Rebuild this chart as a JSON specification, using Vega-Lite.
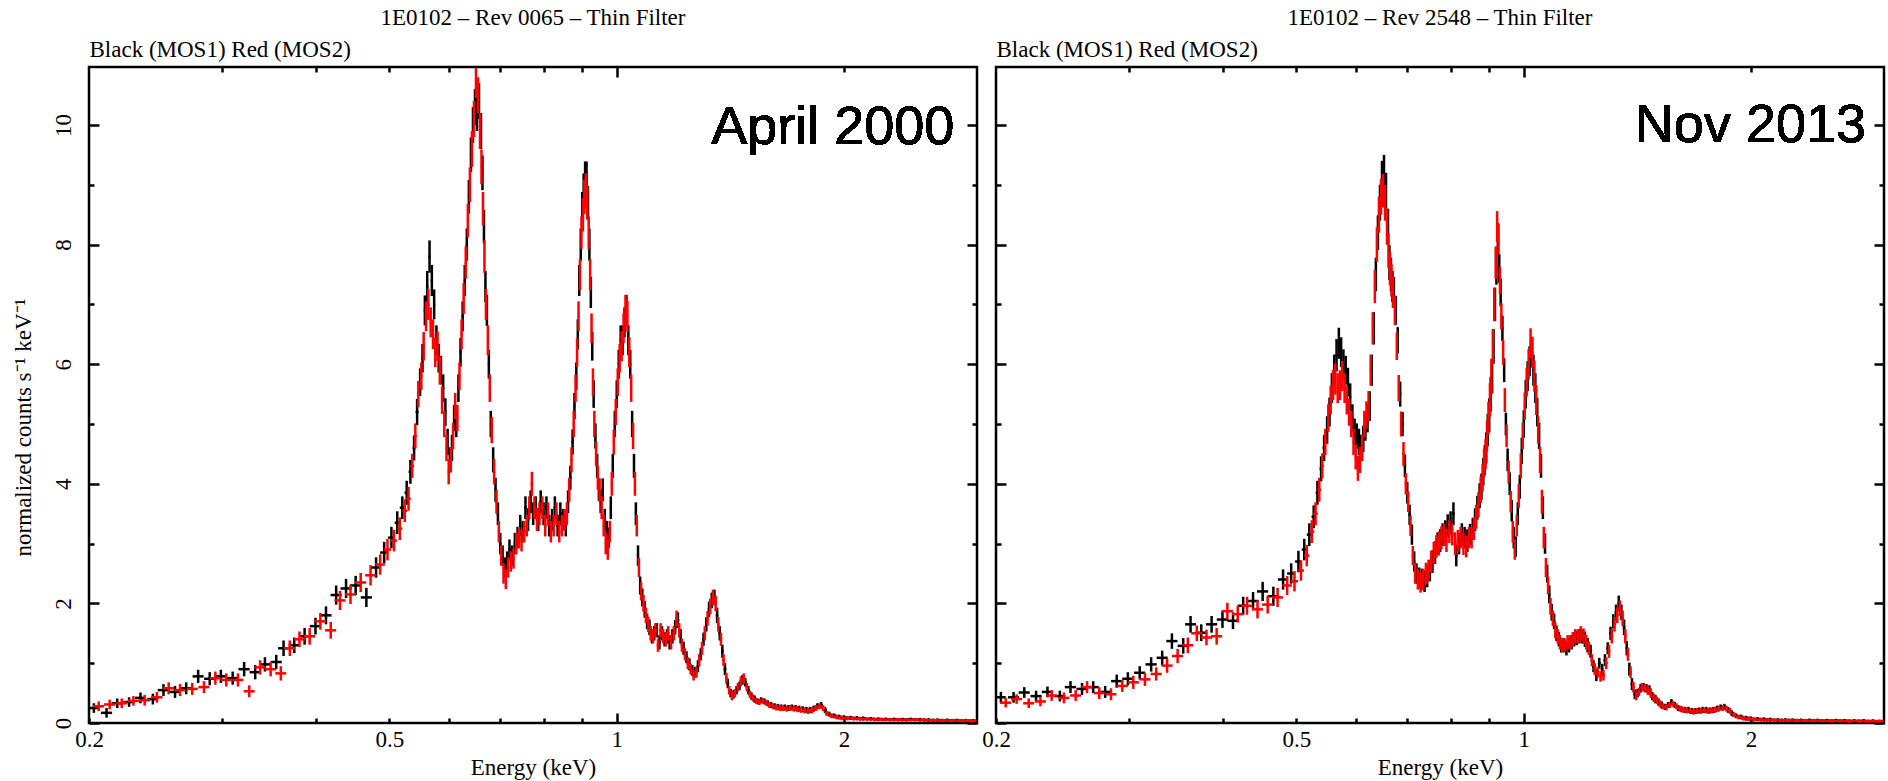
{
"$schema": "https://vega.github.io/schema/vega-lite/v6.json",
"background": "white",
"padding": {"left": 10, "top": 5, "right": 0, "bottom": 0},
"config": {
 "view": {"stroke": "black", "strokeWidth": 2.5},
 "concat": {"spacing": 0},
 "axis": {"domain": false, "grid": false, "tickColor": "black", "tickWidth": 2.5, "labelFont": "Liberation Serif", "labelFontSize": 23, "labelColor": "black", "labelOverlap": false, "labelFlush": false, "titleFont": "Liberation Serif", "titleFontSize": 23, "titleFontWeight": "normal", "titleColor": "black"},
 "title": {"font": "Liberation Serif", "fontSize": 23, "fontWeight": "normal", "color": "black", "anchor": "middle", "frame": "group", "offset": 8}
},
"data": {"format": {"type": "csv", "parse": {"e": "number", "w": "number", "c": "number", "s": "number"}},
"values": "k,e,w,c,s\na,0.203,0.003,0.25,0.08\na,0.211,0.0036,0.17,0.08\na,0.218,0.0037,0.33,0.08\na,0.226,0.0038,0.35,0.08\na,0.234,0.004,0.42,0.09\na,0.243,0.0041,0.40,0.09\na,0.251,0.0043,0.55,0.1\na,0.260,0.0044,0.52,0.1\na,0.269,0.0046,0.58,0.1\na,0.279,0.0047,0.78,0.11\na,0.289,0.0049,0.74,0.11\na,0.299,0.0051,0.78,0.11\na,0.310,0.0053,0.75,0.11\na,0.321,0.0055,0.90,0.12\na,0.332,0.0056,0.85,0.12\na,0.342,0.0058,0.98,0.12\na,0.354,0.006,1.02,0.12\na,0.362,0.006,1.25,0.13\na,0.374,0.0064,1.30,0.13\na,0.386,0.0066,1.45,0.14\na,0.399,0.0068,1.62,0.14\na,0.412,0.007,1.80,0.15\na,0.425,0.0072,2.14,0.16\na,0.438,0.0074,2.25,0.16\na,0.451,0.0077,2.30,0.16\na,0.466,0.0079,2.10,0.16\na,0.480,0.0075,2.60,0.17\na,0.492,0.006,2.85,0.18\na,0.503,0.005,3.10,0.18\na,0.512,0.004,3.35,0.19\na,0.520,0.004,3.60,0.19\na,0.527,0.0035,3.85,0.2\na,0.533,0.003,4.20,0.2\na,0.539,0.0025,4.6,0.21\na,0.544,0.0025,5.2,0.22\na,0.549,0.0022,5.7,0.23\na,0.553,0.002,6.1,0.24\na,0.557,0.002,6.9,0.25\na,0.561,0.002,7.3,0.26\na,0.565,0.002,7.8,0.27\na,0.569,0.002,7.4,0.26\na,0.573,0.002,7.0,0.25\na,0.577,0.002,6.4,0.25\na,0.581,0.002,6.1,0.24\na,0.585,0.002,5.9,0.24\na,0.589,0.002,5.6,0.23\na,0.593,0.002,5.2,0.23\na,0.597,0.002,4.7,0.22\na,0.601,0.002,4.4,0.21\na,0.605,0.002,4.6,0.22\na,0.609,0.002,5.1,0.22\na,0.613,0.002,5.0,0.22\na,0.617,0.002,5.6,0.23\na,0.621,0.002,6.2,0.24\na,0.625,0.002,6.8,0.25\na,0.629,0.002,7.4,0.26\na,0.633,0.002,8.0,0.27\na,0.637,0.002,8.8,0.28\na,0.641,0.002,9.5,0.29\na,0.645,0.002,10.0,0.3\na,0.649,0.002,10.3,0.3\na,0.653,0.002,10.2,0.3\na,0.657,0.002,10.4,0.3\na,0.661,0.0018,9.9,0.3\na,0.664,0.0015,9.2,0.29\na,0.667,0.0015,8.3,0.28\na,0.670,0.0015,7.3,0.26\na,0.673,0.0018,6.9,0.26\na,0.677,0.002,6.0,0.24\na,0.681,0.002,5.0,0.22\na,0.686,0.0025,4.4,0.21\na,0.691,0.0025,3.9,0.2\na,0.696,0.0025,3.5,0.19\na,0.701,0.0025,3.0,0.18\na,0.706,0.0025,2.8,0.17\na,0.711,0.0025,2.6,0.17\na,0.716,0.0025,2.7,0.17\na,0.721,0.0025,2.9,0.17\na,0.727,0.003,2.8,0.17\na,0.733,0.003,3.0,0.18\na,0.739,0.003,3.1,0.18\na,0.745,0.003,3.3,0.18\na,0.751,0.003,3.2,0.18\na,0.757,0.003,3.6,0.19\na,0.763,0.003,3.4,0.19\na,0.769,0.003,3.7,0.19\na,0.775,0.003,3.5,0.19\na,0.781,0.003,3.6,0.19\na,0.787,0.003,3.4,0.19\na,0.793,0.003,3.7,0.19\na,0.800,0.0035,3.5,0.19\na,0.807,0.0035,3.6,0.19\na,0.814,0.0035,3.3,0.18\na,0.821,0.0035,3.4,0.18\na,0.828,0.0035,3.6,0.19\na,0.835,0.0035,3.3,0.18\na,0.842,0.0035,3.5,0.19\na,0.849,0.0035,3.4,0.18\na,0.856,0.0035,3.3,0.18\na,0.862,0.003,3.7,0.19\na,0.868,0.003,4.1,0.2\na,0.874,0.003,4.7,0.21\na,0.879,0.0025,5.3,0.22\na,0.884,0.0022,5.8,0.23\na,0.888,0.002,6.5,0.25\na,0.892,0.002,7.4,0.26\na,0.896,0.002,8.0,0.27\na,0.900,0.002,8.6,0.28\na,0.904,0.002,8.9,0.29\na,0.908,0.002,9.1,0.29\na,0.912,0.002,9.1,0.29\na,0.916,0.002,8.7,0.28\na,0.920,0.002,8.0,0.27\na,0.924,0.002,7.2,0.26\na,0.928,0.002,6.3,0.24\na,0.932,0.002,5.5,0.23\na,0.937,0.0025,4.8,0.21\na,0.942,0.0025,4.3,0.2\na,0.947,0.0025,3.9,0.19\na,0.952,0.0025,3.7,0.19\na,0.958,0.003,3.9,0.19\na,0.964,0.003,3.4,0.18\na,0.970,0.003,3.2,0.18\na,0.976,0.003,3.1,0.17\na,0.982,0.003,3.6,0.19\na,0.988,0.003,4.3,0.2\na,0.994,0.003,5.0,0.22\na,1.000,0.003,5.5,0.23\na,1.006,0.003,6.0,0.24\na,1.012,0.003,6.4,0.25\na,1.018,0.003,6.4,0.25\na,1.024,0.003,6.7,0.25\na,1.030,0.003,6.9,0.26\na,1.036,0.003,6.4,0.25\na,1.042,0.003,6.0,0.24\na,1.048,0.003,5.0,0.22\na,1.054,0.003,4.3,0.2\na,1.060,0.003,3.5,0.19\na,1.067,0.0035,2.8,0.17\na,1.074,0.0035,2.3,0.15\na,1.081,0.0035,2.1,0.15\na,1.089,0.004,1.9,0.14\na,1.097,0.004,1.7,0.13\na,1.105,0.004,1.6,0.13\na,1.113,0.004,1.45,0.12\na,1.121,0.004,1.5,0.12\na,1.130,0.0045,1.55,0.12\na,1.139,0.0045,1.35,0.12\na,1.148,0.0045,1.5,0.12\na,1.157,0.0045,1.4,0.12\na,1.166,0.0045,1.45,0.12\na,1.175,0.005,1.35,0.12\na,1.185,0.005,1.45,0.12\na,1.195,0.005,1.6,0.12\na,1.205,0.005,1.72,0.13\na,1.215,0.005,1.45,0.12\na,1.226,0.0055,1.25,0.11\na,1.237,0.0055,1.1,0.1\na,1.248,0.0055,0.98,0.1\na,1.259,0.0055,0.88,0.09\na,1.270,0.0055,0.85,0.09\na,1.281,0.0055,0.95,0.1\na,1.292,0.0055,1.15,0.1\na,1.303,0.0055,1.4,0.11\na,1.314,0.0055,1.65,0.12\na,1.325,0.0055,1.9,0.13\na,1.336,0.0055,2.05,0.13\na,1.347,0.0055,2.1,0.13\na,1.358,0.0055,1.8,0.13\na,1.369,0.0055,1.5,0.12\na,1.380,0.0055,1.2,0.11\na,1.391,0.006,0.9,0.1\na,1.403,0.006,0.66,0.08\na,1.415,0.006,0.5,0.07\na,1.428,0.0065,0.48,0.07\na,1.441,0.0065,0.55,0.07\na,1.454,0.0065,0.62,0.07\na,1.467,0.0065,0.72,0.08\na,1.480,0.0065,0.68,0.07\na,1.494,0.007,0.55,0.07\na,1.508,0.007,0.45,0.06\na,1.523,0.0075,0.4,0.06\na,1.538,0.0075,0.36,0.05\na,1.553,0.0075,0.38,0.05\na,1.569,0.008,0.36,0.05\na,1.585,0.008,0.33,0.05\na,1.601,0.008,0.3,0.05\na,1.618,0.0085,0.28,0.05\na,1.635,0.0085,0.27,0.05\na,1.652,0.0085,0.26,0.05\na,1.670,0.009,0.26,0.05\na,1.688,0.009,0.25,0.05\na,1.706,0.009,0.26,0.05\na,1.725,0.0095,0.25,0.05\na,1.744,0.0095,0.24,0.05\na,1.763,0.0095,0.23,0.05\na,1.783,0.01,0.22,0.05\na,1.803,0.01,0.22,0.05\na,1.823,0.01,0.24,0.05\na,1.844,0.0105,0.28,0.05\na,1.865,0.0105,0.3,0.05\na,1.887,0.011,0.22,0.05\na,1.910,0.012,0.15,0.04\na,1.940,0.015,0.12,0.04\na,1.970,0.015,0.1,0.04\na,2.000,0.018,0.09,0.04\na,2.040,0.02,0.085,0.035\na,2.080,0.02,0.08,0.035\na,2.120,0.022,0.075,0.035\na,2.170,0.025,0.07,0.03\na,2.220,0.025,0.065,0.03\na,2.270,0.027,0.062,0.03\na,2.330,0.03,0.06,0.03\na,2.390,0.03,0.058,0.03\na,2.450,0.032,0.06,0.03\na,2.520,0.035,0.055,0.03\na,2.590,0.035,0.05,0.03\na,2.660,0.038,0.048,0.03\na,2.740,0.04,0.045,0.03\na,2.820,0.04,0.042,0.03\na,2.900,0.04,0.04,0.03\na,2.965,0.03,0.038,0.03\nb,0.206,0.0035,0.28,0.08\nb,0.213,0.0036,0.31,0.08\nb,0.221,0.0037,0.33,0.08\nb,0.229,0.0039,0.37,0.08\nb,0.237,0.004,0.38,0.09\nb,0.246,0.0042,0.43,0.09\nb,0.255,0.0043,0.58,0.1\nb,0.264,0.0045,0.55,0.1\nb,0.274,0.0046,0.57,0.1\nb,0.284,0.0048,0.60,0.1\nb,0.294,0.005,0.75,0.11\nb,0.304,0.0052,0.72,0.11\nb,0.315,0.0053,0.72,0.11\nb,0.326,0.0055,0.53,0.1\nb,0.337,0.0057,0.93,0.12\nb,0.348,0.0059,0.90,0.12\nb,0.359,0.006,0.83,0.12\nb,0.369,0.0063,1.25,0.13\nb,0.380,0.0065,1.40,0.13\nb,0.392,0.0067,1.45,0.14\nb,0.405,0.0069,1.70,0.14\nb,0.418,0.0071,1.55,0.14\nb,0.430,0.0073,2.05,0.16\nb,0.444,0.0075,2.15,0.16\nb,0.458,0.0078,2.35,0.16\nb,0.472,0.0078,2.47,0.17\nb,0.486,0.007,2.65,0.17\nb,0.497,0.0055,2.9,0.18\nb,0.507,0.0045,3.05,0.18\nb,0.516,0.004,3.25,0.19\nb,0.524,0.004,3.55,0.19\nb,0.530,0.0035,3.75,0.2\nb,0.536,0.003,4.3,0.2\nb,0.541,0.0025,4.8,0.21\nb,0.546,0.0025,5.5,0.22\nb,0.551,0.0022,5.8,0.23\nb,0.555,0.002,6.3,0.24\nb,0.559,0.002,6.8,0.25\nb,0.563,0.002,7.0,0.26\nb,0.567,0.002,6.7,0.25\nb,0.571,0.002,6.5,0.25\nb,0.575,0.002,6.2,0.25\nb,0.579,0.002,6.3,0.25\nb,0.583,0.002,5.9,0.24\nb,0.587,0.002,5.4,0.23\nb,0.591,0.002,5.0,0.22\nb,0.595,0.002,4.6,0.22\nb,0.599,0.002,4.2,0.21\nb,0.603,0.002,4.4,0.21\nb,0.607,0.002,4.8,0.22\nb,0.611,0.002,5.3,0.22\nb,0.615,0.002,5.1,0.22\nb,0.619,0.002,5.8,0.23\nb,0.623,0.002,6.5,0.25\nb,0.627,0.002,7.1,0.26\nb,0.631,0.002,7.7,0.27\nb,0.635,0.002,8.4,0.28\nb,0.639,0.002,9.0,0.29\nb,0.643,0.002,9.6,0.3\nb,0.647,0.002,10.1,0.3\nb,0.651,0.002,10.7,0.25\nb,0.655,0.002,10.5,0.3\nb,0.659,0.002,9.9,0.3\nb,0.662,0.0015,9.3,0.29\nb,0.665,0.0015,8.6,0.28\nb,0.668,0.0015,7.8,0.27\nb,0.671,0.0015,7.0,0.26\nb,0.675,0.002,6.4,0.25\nb,0.679,0.002,5.6,0.23\nb,0.683,0.002,4.9,0.22\nb,0.688,0.0025,4.2,0.21\nb,0.693,0.0025,3.7,0.2\nb,0.698,0.0025,3.2,0.18\nb,0.703,0.0025,2.8,0.17\nb,0.708,0.0025,2.5,0.17\nb,0.713,0.0025,2.4,0.16\nb,0.718,0.0025,2.6,0.17\nb,0.724,0.003,2.7,0.17\nb,0.730,0.003,2.75,0.17\nb,0.736,0.003,3.0,0.18\nb,0.742,0.003,3.1,0.18\nb,0.748,0.003,3.05,0.18\nb,0.754,0.003,3.2,0.18\nb,0.760,0.003,3.3,0.18\nb,0.766,0.003,3.6,0.19\nb,0.772,0.003,4.0,0.2\nb,0.778,0.003,3.6,0.19\nb,0.784,0.003,3.4,0.19\nb,0.790,0.003,3.5,0.19\nb,0.797,0.0035,3.6,0.19\nb,0.804,0.0035,3.3,0.18\nb,0.811,0.0035,3.5,0.19\nb,0.818,0.0035,3.2,0.18\nb,0.825,0.0035,3.3,0.18\nb,0.832,0.0035,3.5,0.19\nb,0.839,0.0035,3.2,0.18\nb,0.846,0.0035,3.3,0.18\nb,0.853,0.0035,3.4,0.18\nb,0.859,0.003,3.5,0.19\nb,0.865,0.003,3.9,0.2\nb,0.871,0.003,4.4,0.21\nb,0.877,0.0025,5.0,0.22\nb,0.882,0.0022,5.6,0.23\nb,0.886,0.002,6.2,0.24\nb,0.890,0.002,6.8,0.25\nb,0.894,0.002,7.5,0.26\nb,0.898,0.002,8.2,0.27\nb,0.902,0.002,8.5,0.28\nb,0.906,0.002,8.8,0.29\nb,0.910,0.002,8.9,0.29\nb,0.914,0.002,8.7,0.28\nb,0.918,0.002,8.2,0.27\nb,0.922,0.002,7.5,0.26\nb,0.926,0.002,6.6,0.25\nb,0.930,0.002,5.7,0.23\nb,0.934,0.0025,5.0,0.22\nb,0.939,0.0025,4.5,0.21\nb,0.944,0.0025,4.1,0.2\nb,0.949,0.0025,3.9,0.19\nb,0.955,0.003,3.6,0.19\nb,0.961,0.003,3.3,0.18\nb,0.967,0.003,3.0,0.18\nb,0.973,0.003,2.9,0.17\nb,0.979,0.003,3.2,0.18\nb,0.985,0.003,4.0,0.2\nb,0.991,0.003,4.7,0.21\nb,0.997,0.003,5.2,0.22\nb,1.003,0.003,5.7,0.23\nb,1.009,0.003,6.1,0.24\nb,1.015,0.003,6.3,0.25\nb,1.021,0.003,6.6,0.25\nb,1.027,0.003,6.9,0.26\nb,1.033,0.003,6.8,0.26\nb,1.039,0.003,6.2,0.25\nb,1.045,0.003,5.6,0.23\nb,1.051,0.003,4.8,0.22\nb,1.057,0.003,4.0,0.2\nb,1.063,0.003,3.3,0.18\nb,1.070,0.0035,2.6,0.16\nb,1.077,0.0035,2.2,0.15\nb,1.085,0.004,2.0,0.14\nb,1.093,0.004,1.8,0.13\nb,1.101,0.004,1.65,0.13\nb,1.109,0.004,1.5,0.12\nb,1.117,0.004,1.45,0.12\nb,1.125,0.0045,1.55,0.12\nb,1.134,0.0045,1.3,0.11\nb,1.143,0.0045,1.55,0.12\nb,1.152,0.0045,1.45,0.12\nb,1.161,0.0045,1.4,0.12\nb,1.170,0.005,1.5,0.12\nb,1.180,0.005,1.35,0.12\nb,1.190,0.005,1.5,0.12\nb,1.200,0.005,1.75,0.13\nb,1.210,0.005,1.55,0.12\nb,1.220,0.005,1.3,0.11\nb,1.231,0.0055,1.15,0.1\nb,1.242,0.0055,1.0,0.1\nb,1.253,0.0055,0.9,0.09\nb,1.264,0.0055,0.8,0.09\nb,1.275,0.0055,0.85,0.09\nb,1.286,0.0055,1.05,0.1\nb,1.297,0.0055,1.25,0.11\nb,1.308,0.0055,1.5,0.12\nb,1.319,0.0055,1.75,0.12\nb,1.330,0.0055,1.95,0.13\nb,1.341,0.0055,2.1,0.13\nb,1.352,0.0055,2.0,0.13\nb,1.363,0.0055,1.65,0.12\nb,1.374,0.0055,1.4,0.11\nb,1.385,0.006,1.05,0.1\nb,1.397,0.006,0.75,0.09\nb,1.409,0.006,0.55,0.07\nb,1.421,0.006,0.45,0.07\nb,1.434,0.0065,0.5,0.07\nb,1.447,0.0065,0.6,0.07\nb,1.460,0.0065,0.7,0.08\nb,1.473,0.0065,0.75,0.08\nb,1.487,0.007,0.6,0.07\nb,1.501,0.007,0.48,0.06\nb,1.515,0.0075,0.42,0.06\nb,1.530,0.0075,0.37,0.05\nb,1.545,0.0075,0.35,0.05\nb,1.561,0.008,0.37,0.05\nb,1.577,0.008,0.34,0.05\nb,1.593,0.008,0.3,0.05\nb,1.610,0.0085,0.28,0.05\nb,1.627,0.0085,0.26,0.05\nb,1.644,0.0085,0.25,0.05\nb,1.661,0.009,0.25,0.05\nb,1.679,0.009,0.24,0.05\nb,1.697,0.009,0.25,0.05\nb,1.716,0.0095,0.24,0.05\nb,1.735,0.0095,0.23,0.05\nb,1.754,0.0095,0.22,0.05\nb,1.773,0.01,0.21,0.05\nb,1.793,0.01,0.2,0.05\nb,1.813,0.01,0.21,0.05\nb,1.834,0.0105,0.25,0.05\nb,1.855,0.0105,0.28,0.05\nb,1.876,0.011,0.25,0.05\nb,1.898,0.012,0.16,0.04\nb,1.925,0.015,0.12,0.04\nb,1.955,0.015,0.1,0.04\nb,1.985,0.018,0.085,0.04\nb,2.020,0.02,0.08,0.035\nb,2.060,0.02,0.075,0.035\nb,2.100,0.022,0.07,0.035\nb,2.145,0.025,0.065,0.03\nb,2.195,0.025,0.06,0.03\nb,2.245,0.027,0.06,0.03\nb,2.300,0.03,0.055,0.03\nb,2.360,0.03,0.055,0.03\nb,2.420,0.032,0.05,0.03\nb,2.485,0.035,0.055,0.03\nb,2.555,0.035,0.05,0.03\nb,2.625,0.038,0.045,0.03\nb,2.700,0.04,0.042,0.03\nb,2.780,0.04,0.04,0.03\nb,2.865,0.045,0.038,0.03\nb,2.950,0.045,0.035,0.03\nc,0.203,0.003,0.43,0.09\nc,0.211,0.0036,0.43,0.09\nc,0.218,0.0037,0.51,0.09\nc,0.226,0.0038,0.45,0.09\nc,0.234,0.004,0.52,0.09\nc,0.243,0.0041,0.45,0.09\nc,0.251,0.0043,0.60,0.1\nc,0.260,0.0044,0.57,0.1\nc,0.269,0.0046,0.60,0.1\nc,0.279,0.0047,0.52,0.1\nc,0.289,0.0049,0.70,0.11\nc,0.299,0.0051,0.74,0.11\nc,0.310,0.0053,0.84,0.11\nc,0.321,0.0055,0.98,0.12\nc,0.332,0.0056,1.09,0.12\nc,0.342,0.0058,1.37,0.13\nc,0.354,0.006,1.29,0.13\nc,0.362,0.006,1.65,0.14\nc,0.374,0.0064,1.51,0.14\nc,0.386,0.0066,1.65,0.14\nc,0.399,0.0068,1.73,0.14\nc,0.412,0.007,1.71,0.14\nc,0.425,0.0072,1.96,0.15\nc,0.438,0.0074,2.04,0.15\nc,0.451,0.0077,2.20,0.16\nc,0.466,0.0079,2.12,0.16\nc,0.480,0.0075,2.40,0.17\nc,0.492,0.006,2.50,0.17\nc,0.503,0.005,2.70,0.18\nc,0.512,0.004,2.90,0.18\nc,0.520,0.004,3.15,0.19\nc,0.527,0.0035,3.45,0.19\nc,0.533,0.003,3.85,0.2\nc,0.539,0.0025,4.25,0.21\nc,0.544,0.0025,4.6,0.22\nc,0.549,0.0022,4.9,0.23\nc,0.553,0.002,5.2,0.24\nc,0.557,0.002,5.6,0.25\nc,0.561,0.002,5.9,0.26\nc,0.565,0.002,6.15,0.27\nc,0.569,0.002,6.35,0.26\nc,0.573,0.002,6.2,0.25\nc,0.577,0.002,6.0,0.25\nc,0.581,0.002,5.9,0.24\nc,0.585,0.002,5.7,0.24\nc,0.589,0.002,5.45,0.23\nc,0.593,0.002,5.1,0.23\nc,0.597,0.002,4.87,0.22\nc,0.601,0.002,4.8,0.21\nc,0.605,0.002,4.7,0.22\nc,0.609,0.002,4.6,0.22\nc,0.613,0.002,4.75,0.22\nc,0.617,0.002,4.95,0.23\nc,0.621,0.002,5.1,0.24\nc,0.625,0.002,5.3,0.25\nc,0.629,0.002,5.9,0.26\nc,0.633,0.002,6.6,0.27\nc,0.637,0.002,7.5,0.28\nc,0.641,0.002,8.2,0.29\nc,0.645,0.002,8.7,0.3\nc,0.649,0.002,9.1,0.3\nc,0.653,0.002,9.2,0.3\nc,0.657,0.002,8.9,0.3\nc,0.661,0.0018,8.3,0.3\nc,0.664,0.0015,7.7,0.29\nc,0.667,0.0015,7.5,0.28\nc,0.670,0.0015,7.3,0.26\nc,0.673,0.0018,7.2,0.26\nc,0.677,0.002,6.9,0.24\nc,0.681,0.002,6.4,0.22\nc,0.686,0.0025,5.5,0.21\nc,0.691,0.0025,5.0,0.2\nc,0.696,0.0025,4.3,0.19\nc,0.701,0.0025,3.85,0.18\nc,0.706,0.0025,3.48,0.17\nc,0.711,0.0025,3.15,0.17\nc,0.716,0.0025,2.7,0.17\nc,0.721,0.0025,2.5,0.17\nc,0.727,0.003,2.43,0.17\nc,0.733,0.003,2.4,0.18\nc,0.739,0.003,2.37,0.18\nc,0.745,0.003,2.45,0.18\nc,0.751,0.003,2.55,0.18\nc,0.757,0.003,2.7,0.19\nc,0.763,0.003,2.85,0.19\nc,0.769,0.003,3.0,0.19\nc,0.775,0.003,3.05,0.19\nc,0.781,0.003,3.15,0.19\nc,0.787,0.003,3.2,0.19\nc,0.793,0.003,3.3,0.19\nc,0.800,0.0035,3.35,0.19\nc,0.807,0.0035,3.5,0.19\nc,0.814,0.0035,2.8,0.18\nc,0.821,0.0035,3.0,0.18\nc,0.828,0.0035,3.15,0.19\nc,0.835,0.0035,3.1,0.18\nc,0.842,0.0035,3.05,0.19\nc,0.849,0.0035,3.15,0.18\nc,0.856,0.0035,3.25,0.18\nc,0.862,0.003,3.4,0.19\nc,0.868,0.003,3.6,0.2\nc,0.874,0.003,3.8,0.21\nc,0.879,0.0025,3.95,0.22\nc,0.884,0.0022,4.2,0.23\nc,0.888,0.002,4.4,0.25\nc,0.892,0.002,4.6,0.26\nc,0.896,0.002,4.9,0.27\nc,0.900,0.002,5.15,0.28\nc,0.904,0.002,5.5,0.29\nc,0.908,0.002,5.8,0.29\nc,0.912,0.002,6.3,0.29\nc,0.916,0.002,7.0,0.28\nc,0.920,0.002,7.6,0.27\nc,0.924,0.002,8.1,0.26\nc,0.928,0.002,7.6,0.24\nc,0.932,0.002,7.2,0.23\nc,0.937,0.0025,6.6,0.21\nc,0.942,0.0025,5.9,0.2\nc,0.947,0.0025,5.0,0.19\nc,0.952,0.0025,4.4,0.19\nc,0.958,0.003,4.0,0.19\nc,0.964,0.003,3.55,0.18\nc,0.970,0.003,3.1,0.18\nc,0.976,0.003,2.95,0.17\nc,0.982,0.003,3.5,0.19\nc,0.988,0.003,3.95,0.2\nc,0.994,0.003,4.55,0.22\nc,1.000,0.003,5.0,0.23\nc,1.006,0.003,5.5,0.24\nc,1.012,0.003,5.8,0.25\nc,1.018,0.003,6.05,0.25\nc,1.024,0.003,6.2,0.25\nc,1.030,0.003,5.9,0.26\nc,1.036,0.003,5.6,0.25\nc,1.042,0.003,5.2,0.24\nc,1.048,0.003,4.8,0.22\nc,1.054,0.003,4.3,0.2\nc,1.060,0.003,3.6,0.19\nc,1.067,0.0035,3.0,0.17\nc,1.074,0.0035,2.5,0.15\nc,1.081,0.0035,2.15,0.15\nc,1.089,0.004,1.85,0.14\nc,1.097,0.004,1.7,0.13\nc,1.105,0.004,1.5,0.13\nc,1.113,0.004,1.4,0.12\nc,1.121,0.004,1.3,0.12\nc,1.130,0.0045,1.3,0.12\nc,1.139,0.0045,1.25,0.12\nc,1.148,0.0045,1.3,0.12\nc,1.157,0.0045,1.35,0.12\nc,1.166,0.0045,1.4,0.12\nc,1.175,0.005,1.42,0.12\nc,1.185,0.005,1.45,0.12\nc,1.195,0.005,1.45,0.12\nc,1.205,0.005,1.4,0.13\nc,1.215,0.005,1.3,0.12\nc,1.226,0.0055,1.2,0.11\nc,1.237,0.0055,0.95,0.1\nc,1.248,0.0055,0.8,0.1\nc,1.259,0.0055,1.0,0.09\nc,1.270,0.0055,0.9,0.09\nc,1.281,0.0055,1.05,0.1\nc,1.292,0.0055,1.25,0.1\nc,1.303,0.0055,1.5,0.11\nc,1.314,0.0055,1.7,0.12\nc,1.325,0.0055,1.85,0.13\nc,1.336,0.0055,2.0,0.13\nc,1.347,0.0055,1.85,0.13\nc,1.358,0.0055,1.6,0.13\nc,1.369,0.0055,1.25,0.12\nc,1.380,0.0055,0.9,0.11\nc,1.391,0.006,0.65,0.1\nc,1.403,0.006,0.48,0.08\nc,1.415,0.006,0.5,0.07\nc,1.428,0.0065,0.58,0.07\nc,1.441,0.0065,0.6,0.07\nc,1.454,0.0065,0.58,0.07\nc,1.467,0.0065,0.55,0.08\nc,1.480,0.0065,0.45,0.07\nc,1.494,0.007,0.4,0.07\nc,1.508,0.007,0.35,0.06\nc,1.523,0.0075,0.3,0.06\nc,1.538,0.0075,0.27,0.05\nc,1.553,0.0075,0.3,0.05\nc,1.569,0.008,0.35,0.05\nc,1.585,0.008,0.3,0.05\nc,1.601,0.008,0.25,0.05\nc,1.618,0.0085,0.23,0.05\nc,1.635,0.0085,0.22,0.05\nc,1.652,0.0085,0.22,0.05\nc,1.670,0.009,0.2,0.05\nc,1.688,0.009,0.2,0.05\nc,1.706,0.009,0.21,0.05\nc,1.725,0.0095,0.22,0.05\nc,1.744,0.0095,0.22,0.05\nc,1.763,0.0095,0.21,0.05\nc,1.783,0.01,0.22,0.05\nc,1.803,0.01,0.24,0.05\nc,1.823,0.01,0.26,0.05\nc,1.844,0.0105,0.27,0.05\nc,1.865,0.0105,0.22,0.05\nc,1.887,0.011,0.16,0.05\nc,1.910,0.012,0.12,0.04\nc,1.940,0.015,0.1,0.04\nc,1.970,0.015,0.08,0.04\nc,2.000,0.018,0.07,0.04\nc,2.040,0.02,0.065,0.035\nc,2.080,0.02,0.06,0.035\nc,2.120,0.022,0.055,0.035\nc,2.170,0.025,0.05,0.03\nc,2.220,0.025,0.05,0.03\nc,2.270,0.027,0.048,0.03\nc,2.330,0.03,0.045,0.03\nc,2.390,0.03,0.045,0.03\nc,2.450,0.032,0.042,0.03\nc,2.520,0.035,0.04,0.03\nc,2.590,0.035,0.04,0.03\nc,2.660,0.038,0.038,0.03\nc,2.740,0.04,0.035,0.03\nc,2.820,0.04,0.035,0.03\nc,2.900,0.04,0.032,0.03\nc,2.965,0.03,0.03,0.025\nd,0.206,0.0035,0.34,0.08\nd,0.213,0.0036,0.40,0.08\nd,0.221,0.0037,0.33,0.08\nd,0.229,0.0039,0.36,0.08\nd,0.237,0.004,0.46,0.09\nd,0.246,0.0042,0.42,0.09\nd,0.255,0.0043,0.46,0.09\nd,0.264,0.0045,0.60,0.1\nd,0.274,0.0046,0.50,0.1\nd,0.284,0.0048,0.48,0.1\nd,0.294,0.005,0.62,0.1\nd,0.304,0.0052,0.68,0.11\nd,0.315,0.0053,0.73,0.11\nd,0.326,0.0055,0.82,0.11\nd,0.337,0.0057,0.96,0.12\nd,0.348,0.0059,1.12,0.12\nd,0.359,0.006,1.30,0.13\nd,0.369,0.0063,1.50,0.13\nd,0.380,0.0065,1.43,0.13\nd,0.392,0.0067,1.45,0.14\nd,0.405,0.0069,1.87,0.14\nd,0.418,0.0071,1.82,0.14\nd,0.430,0.0073,1.96,0.15\nd,0.444,0.0075,1.90,0.15\nd,0.458,0.0078,1.98,0.15\nd,0.472,0.0078,2.10,0.16\nd,0.486,0.007,2.30,0.16\nd,0.497,0.0055,2.37,0.17\nd,0.507,0.0045,2.55,0.17\nd,0.516,0.004,2.80,0.18\nd,0.524,0.004,3.20,0.19\nd,0.530,0.0035,3.50,0.19\nd,0.536,0.003,3.90,0.2\nd,0.541,0.0025,4.3,0.21\nd,0.546,0.0025,4.7,0.22\nd,0.551,0.0022,5.1,0.23\nd,0.555,0.002,5.4,0.24\nd,0.559,0.002,5.65,0.25\nd,0.563,0.002,5.75,0.26\nd,0.567,0.002,5.6,0.25\nd,0.571,0.002,5.65,0.25\nd,0.575,0.002,5.8,0.25\nd,0.579,0.002,5.6,0.25\nd,0.583,0.002,5.4,0.24\nd,0.587,0.002,5.2,0.23\nd,0.591,0.002,5.0,0.22\nd,0.595,0.002,4.7,0.22\nd,0.599,0.002,4.45,0.21\nd,0.603,0.002,4.26,0.21\nd,0.607,0.002,4.4,0.22\nd,0.611,0.002,4.6,0.22\nd,0.615,0.002,5.0,0.22\nd,0.619,0.002,5.15,0.23\nd,0.623,0.002,5.3,0.25\nd,0.627,0.002,5.9,0.26\nd,0.631,0.002,6.6,0.27\nd,0.635,0.002,7.3,0.28\nd,0.639,0.002,8.0,0.29\nd,0.643,0.002,8.5,0.3\nd,0.647,0.002,8.8,0.3\nd,0.651,0.002,8.9,0.28\nd,0.655,0.002,8.7,0.3\nd,0.659,0.002,8.3,0.3\nd,0.662,0.0015,7.9,0.29\nd,0.665,0.0015,7.6,0.28\nd,0.668,0.0015,7.4,0.27\nd,0.671,0.0015,7.2,0.26\nd,0.675,0.002,6.9,0.25\nd,0.679,0.002,6.3,0.23\nd,0.683,0.002,5.6,0.22\nd,0.688,0.0025,5.0,0.21\nd,0.693,0.0025,4.5,0.2\nd,0.698,0.0025,4.0,0.18\nd,0.703,0.0025,3.7,0.17\nd,0.708,0.0025,3.3,0.17\nd,0.713,0.0025,2.8,0.16\nd,0.718,0.0025,2.5,0.17\nd,0.724,0.003,2.4,0.17\nd,0.730,0.003,2.35,0.17\nd,0.736,0.003,2.4,0.18\nd,0.742,0.003,2.5,0.18\nd,0.748,0.003,2.55,0.18\nd,0.754,0.003,2.7,0.18\nd,0.760,0.003,2.85,0.18\nd,0.766,0.003,2.95,0.19\nd,0.772,0.003,3.0,0.2\nd,0.778,0.003,3.1,0.19\nd,0.784,0.003,3.15,0.19\nd,0.790,0.003,3.05,0.19\nd,0.797,0.0035,3.2,0.19\nd,0.804,0.0035,3.15,0.18\nd,0.811,0.0035,3.0,0.19\nd,0.818,0.0035,3.05,0.18\nd,0.825,0.0035,3.1,0.18\nd,0.832,0.0035,3.0,0.19\nd,0.839,0.0035,2.95,0.18\nd,0.846,0.0035,3.1,0.18\nd,0.853,0.0035,3.1,0.18\nd,0.859,0.003,3.25,0.19\nd,0.865,0.003,3.45,0.2\nd,0.871,0.003,3.65,0.21\nd,0.877,0.0025,3.9,0.22\nd,0.882,0.0022,4.1,0.23\nd,0.886,0.002,4.35,0.24\nd,0.890,0.002,4.5,0.25\nd,0.894,0.002,4.8,0.26\nd,0.898,0.002,5.1,0.27\nd,0.902,0.002,5.4,0.28\nd,0.906,0.002,5.8,0.29\nd,0.910,0.002,6.3,0.29\nd,0.914,0.002,7.0,0.28\nd,0.918,0.002,7.7,0.27\nd,0.922,0.002,8.3,0.26\nd,0.926,0.002,8.1,0.25\nd,0.930,0.002,7.4,0.23\nd,0.934,0.0025,6.8,0.22\nd,0.939,0.0025,6.2,0.21\nd,0.944,0.0025,5.4,0.2\nd,0.949,0.0025,4.8,0.19\nd,0.955,0.003,4.2,0.19\nd,0.961,0.003,3.7,0.18\nd,0.967,0.003,3.2,0.18\nd,0.973,0.003,2.9,0.17\nd,0.979,0.003,3.3,0.18\nd,0.985,0.003,3.8,0.2\nd,0.991,0.003,4.3,0.21\nd,0.997,0.003,4.8,0.22\nd,1.003,0.003,5.3,0.23\nd,1.009,0.003,5.7,0.24\nd,1.015,0.003,6.0,0.25\nd,1.021,0.003,6.35,0.25\nd,1.027,0.003,6.2,0.26\nd,1.033,0.003,5.8,0.26\nd,1.039,0.003,5.4,0.25\nd,1.045,0.003,4.9,0.23\nd,1.051,0.003,4.4,0.22\nd,1.057,0.003,3.7,0.2\nd,1.063,0.003,3.1,0.18\nd,1.070,0.0035,2.6,0.16\nd,1.077,0.0035,2.3,0.15\nd,1.085,0.004,1.95,0.14\nd,1.093,0.004,1.75,0.13\nd,1.101,0.004,1.55,0.13\nd,1.109,0.004,1.45,0.12\nd,1.117,0.004,1.35,0.12\nd,1.125,0.0045,1.3,0.12\nd,1.134,0.0045,1.3,0.11\nd,1.143,0.0045,1.35,0.12\nd,1.152,0.0045,1.35,0.12\nd,1.161,0.0045,1.4,0.12\nd,1.170,0.005,1.45,0.12\nd,1.180,0.005,1.45,0.12\nd,1.190,0.005,1.5,0.12\nd,1.200,0.005,1.45,0.13\nd,1.210,0.005,1.35,0.12\nd,1.220,0.005,1.25,0.11\nd,1.231,0.0055,1.05,0.1\nd,1.242,0.0055,0.9,0.1\nd,1.253,0.0055,0.85,0.09\nd,1.264,0.0055,0.78,0.09\nd,1.275,0.0055,0.8,0.09\nd,1.286,0.0055,1.0,0.1\nd,1.297,0.0055,1.2,0.11\nd,1.308,0.0055,1.45,0.12\nd,1.319,0.0055,1.65,0.12\nd,1.330,0.0055,1.8,0.13\nd,1.341,0.0055,1.92,0.13\nd,1.352,0.0055,1.75,0.13\nd,1.363,0.0055,1.45,0.12\nd,1.374,0.0055,1.15,0.11\nd,1.385,0.006,0.85,0.1\nd,1.397,0.006,0.6,0.09\nd,1.409,0.006,0.45,0.07\nd,1.421,0.006,0.52,0.07\nd,1.434,0.0065,0.6,0.07\nd,1.447,0.0065,0.58,0.07\nd,1.460,0.0065,0.55,0.08\nd,1.473,0.0065,0.5,0.08\nd,1.487,0.007,0.42,0.07\nd,1.501,0.007,0.38,0.06\nd,1.515,0.0075,0.32,0.06\nd,1.530,0.0075,0.28,0.05\nd,1.545,0.0075,0.26,0.05\nd,1.561,0.008,0.3,0.05\nd,1.577,0.008,0.32,0.05\nd,1.593,0.008,0.28,0.05\nd,1.610,0.0085,0.24,0.05\nd,1.627,0.0085,0.22,0.05\nd,1.644,0.0085,0.21,0.05\nd,1.661,0.009,0.2,0.05\nd,1.679,0.009,0.19,0.05\nd,1.697,0.009,0.2,0.05\nd,1.716,0.0095,0.2,0.05\nd,1.735,0.0095,0.21,0.05\nd,1.754,0.0095,0.2,0.05\nd,1.773,0.01,0.21,0.05\nd,1.793,0.01,0.22,0.05\nd,1.813,0.01,0.24,0.05\nd,1.834,0.0105,0.25,0.05\nd,1.855,0.0105,0.24,0.05\nd,1.876,0.011,0.2,0.05\nd,1.898,0.012,0.14,0.04\nd,1.925,0.015,0.1,0.04\nd,1.955,0.015,0.08,0.04\nd,1.985,0.018,0.07,0.04\nd,2.020,0.02,0.06,0.035\nd,2.060,0.02,0.055,0.035\nd,2.100,0.022,0.05,0.035\nd,2.145,0.025,0.05,0.03\nd,2.195,0.025,0.045,0.03\nd,2.245,0.027,0.045,0.03\nd,2.300,0.03,0.042,0.03\nd,2.360,0.03,0.04,0.03\nd,2.420,0.032,0.04,0.03\nd,2.485,0.035,0.038,0.03\nd,2.555,0.035,0.036,0.03\nd,2.625,0.038,0.035,0.03\nd,2.700,0.04,0.033,0.03\nd,2.780,0.04,0.032,0.03\nd,2.865,0.045,0.03,0.025\nd,2.950,0.045,0.03,0.025"},
"hconcat": [
 {
  "width": 888, "height": 656,
  "title": {"text": "1E0102 – Rev 0065 – Thin Filter"},
  "resolve": {"axis": {"x": "independent", "y": "independent"}},
  "layer": [
   {"transform": [{"filter": "datum.k=='a'"}],
    "mark": {"type": "errorbar", "color": "#000000", "thickness": 2.5},
    "encoding": {
     "x": {"field": "e", "type": "quantitative", "scale": {"type": "log", "domain": [0.2, 3], "nice": false},
      "axis": {"orient": "bottom", "values": [0.2, 0.3, 0.4, 0.5, 0.6, 0.7, 0.8, 0.9, 2], "tickSize": -5, "labelPadding": 10, "labelExpr": "datum.value==0.2?'0.2':datum.value==0.5?'0.5':datum.value==2?'2':''", "title": "Energy (keV)", "titleY": 51, "titleBaseline": "alphabetic"}},
     "xError": {"field": "w"},
     "y": {"field": "c", "type": "quantitative", "scale": {"domain": [0, 10.97], "nice": false},
      "axis": {"orient": "left", "values": [0, 2, 4, 6, 8, 10], "tickSize": -10, "labelPadding": 24, "labelAngle": -90, "labelAlign": "center", "labelBaseline": "bottom", "title": "normalized counts s⁻¹ keV⁻¹", "titleAngle": -90, "titleX": -59, "titleY": 360, "titleAlign": "center", "titleBaseline": "alphabetic"}}
    }},
   {"transform": [{"filter": "datum.k=='a'"}],
    "mark": {"type": "errorbar", "color": "#000000", "thickness": 2.5},
    "encoding": {
     "x": {"field": "e", "type": "quantitative", "scale": {"type": "log", "domain": [0.2, 3], "nice": false},
      "axis": {"orient": "bottom", "values": [1], "tickSize": -10, "labelPadding": 15, "labelExpr": "'1'", "title": null}},
     "y": {"field": "c", "type": "quantitative", "scale": {"domain": [0, 10.97], "nice": false},
      "axis": {"orient": "left", "values": [1, 3, 5, 7, 9], "tickSize": -5, "labels": false, "title": null}},
     "yError": {"field": "s"}
    }},
   {"transform": [{"filter": "datum.k=='b'"}],
    "mark": {"type": "errorbar", "color": "#ff0000", "thickness": 2.5},
    "encoding": {
     "x": {"field": "e", "type": "quantitative", "scale": {"type": "log", "domain": [0.2, 3], "nice": false},
      "axis": {"orient": "top", "values": [0.3, 0.4, 0.5, 0.6, 0.7, 0.8, 0.9, 2], "tickSize": -5, "labels": false, "title": "Black (MOS1) Red (MOS2)", "titleAnchor": "start", "titleAlign": "left", "titleX": 0, "titleY": -11, "titleBaseline": "alphabetic"}},
     "xError": {"field": "w"},
     "y": {"field": "c", "type": "quantitative", "scale": {"domain": [0, 10.97], "nice": false},
      "axis": {"orient": "right", "values": [0, 2, 4, 6, 8, 10], "tickSize": -10, "labels": false, "title": null}}
    }},
   {"transform": [{"filter": "datum.k=='b'"}],
    "mark": {"type": "errorbar", "color": "#ff0000", "thickness": 2.5},
    "encoding": {
     "x": {"field": "e", "type": "quantitative", "scale": {"type": "log", "domain": [0.2, 3], "nice": false},
      "axis": {"orient": "top", "values": [1], "tickSize": -10, "labels": false, "title": null}},
     "y": {"field": "c", "type": "quantitative", "scale": {"domain": [0, 10.97], "nice": false},
      "axis": {"orient": "right", "values": [1, 3, 5, 7, 9], "tickSize": -5, "labels": false, "title": null}},
     "yError": {"field": "s"}
    }},
   {"mark": {"type": "text", "text": "April 2000", "font": "Liberation Sans", "fontSize": 54, "align": "right", "baseline": "middle", "color": "black"},
    "encoding": {
     "x": {"datum": 2.8, "type": "quantitative", "axis": null},
     "y": {"datum": 9.95, "type": "quantitative", "axis": null}
    }}
  ]
 },
 {
  "width": 888, "height": 656,
  "title": {"text": "1E0102 – Rev 2548 – Thin Filter"},
  "resolve": {"axis": {"x": "independent", "y": "independent"}},
  "layer": [
   {"transform": [{"filter": "datum.k=='c'"}],
    "mark": {"type": "errorbar", "color": "#000000", "thickness": 2.5},
    "encoding": {
     "x": {"field": "e", "type": "quantitative", "scale": {"type": "log", "domain": [0.2, 3], "nice": false},
      "axis": {"orient": "bottom", "values": [0.2, 0.3, 0.4, 0.5, 0.6, 0.7, 0.8, 0.9, 2], "tickSize": -5, "labelPadding": 10, "labelExpr": "datum.value==0.2?'0.2':datum.value==0.5?'0.5':datum.value==2?'2':''", "title": "Energy (keV)", "titleY": 51, "titleBaseline": "alphabetic"}},
     "xError": {"field": "w"},
     "y": {"field": "c", "type": "quantitative", "scale": {"domain": [0, 10.97], "nice": false},
      "axis": {"orient": "left", "values": [0, 2, 4, 6, 8, 10], "tickSize": -10, "labels": false, "title": null}}
    }},
   {"transform": [{"filter": "datum.k=='c'"}],
    "mark": {"type": "errorbar", "color": "#000000", "thickness": 2.5},
    "encoding": {
     "x": {"field": "e", "type": "quantitative", "scale": {"type": "log", "domain": [0.2, 3], "nice": false},
      "axis": {"orient": "bottom", "values": [1], "tickSize": -10, "labelPadding": 15, "labelExpr": "'1'", "title": null}},
     "y": {"field": "c", "type": "quantitative", "scale": {"domain": [0, 10.97], "nice": false},
      "axis": {"orient": "left", "values": [1, 3, 5, 7, 9], "tickSize": -5, "labels": false, "title": null}},
     "yError": {"field": "s"}
    }},
   {"transform": [{"filter": "datum.k=='d'"}],
    "mark": {"type": "errorbar", "color": "#ff0000", "thickness": 2.5},
    "encoding": {
     "x": {"field": "e", "type": "quantitative", "scale": {"type": "log", "domain": [0.2, 3], "nice": false},
      "axis": {"orient": "top", "values": [0.3, 0.4, 0.5, 0.6, 0.7, 0.8, 0.9, 2], "tickSize": -5, "labels": false, "title": "Black (MOS1) Red (MOS2)", "titleAnchor": "start", "titleAlign": "left", "titleX": 0, "titleY": -11, "titleBaseline": "alphabetic"}},
     "xError": {"field": "w"},
     "y": {"field": "c", "type": "quantitative", "scale": {"domain": [0, 10.97], "nice": false},
      "axis": {"orient": "right", "values": [0, 2, 4, 6, 8, 10], "tickSize": -10, "labels": false, "title": null}}
    }},
   {"transform": [{"filter": "datum.k=='d'"}],
    "mark": {"type": "errorbar", "color": "#ff0000", "thickness": 2.5},
    "encoding": {
     "x": {"field": "e", "type": "quantitative", "scale": {"type": "log", "domain": [0.2, 3], "nice": false},
      "axis": {"orient": "top", "values": [1], "tickSize": -10, "labels": false, "title": null}},
     "y": {"field": "c", "type": "quantitative", "scale": {"domain": [0, 10.97], "nice": false},
      "axis": {"orient": "right", "values": [1, 3, 5, 7, 9], "tickSize": -5, "labels": false, "title": null}},
     "yError": {"field": "s"}
    }},
   {"mark": {"type": "text", "text": "Nov 2013", "font": "Liberation Sans", "fontSize": 54, "align": "right", "baseline": "middle", "color": "black"},
    "encoding": {
     "x": {"datum": 2.84, "type": "quantitative", "axis": null},
     "y": {"datum": 9.98, "type": "quantitative", "axis": null}
    }}
  ]
 }
]
}
